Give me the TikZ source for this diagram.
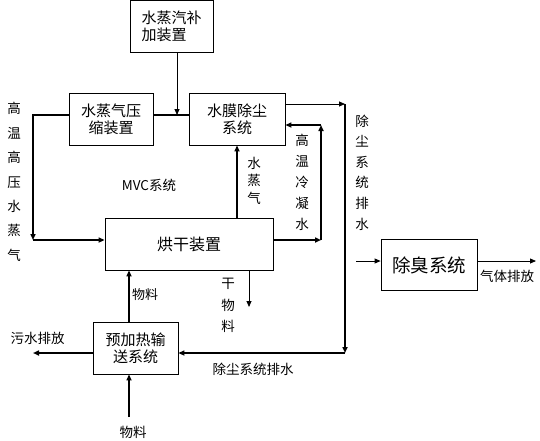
\documentclass[tikz,border=0pt]{standalone}
\usepackage{fontspec}
\setmainfont{Noto Sans CJK SC}
\usetikzlibrary{arrows.meta}
\tikzset{
  box/.style={draw, line width=0.8pt, inner sep=2pt, font=\fontsize{15}{17}\selectfont, align=center},
  thinln/.style={line width=0.8pt},
  thickln/.style={line width=1.6pt},
  tip/.style={-{Triangle[length=6pt,width=5pt]}},
  lbl/.style={inner sep=0pt, font=\fontsize{13.5}{16}\selectfont},
}
\newcommand{\vlab}[2]{\fontsize{13.5}{#1}\selectfont #2}
\begin{document}
\begin{tikzpicture}[x=1pt,y=-1pt]
\useasboundingbox (0,0) rectangle (540,440);
% boxes
\node[box, align=left, minimum width=83, minimum height=52] (add) at (171.5,26.5) {水蒸汽补\\加装置};
\node[box, minimum width=84, minimum height=52] (comp) at (111,119) {水蒸气压\\缩装置};
\node[box, minimum width=96, minimum height=52] (dust) at (237,119) {水膜除尘\\系统};
\node[box, minimum width=168, minimum height=52, font=\fontsize{16}{18}\selectfont] (dry) at (189,244) {烘干装置};
\node[box, minimum width=96, minimum height=51, font=\fontsize{18.5}{20}\selectfont] (deo) at (429,265) {除臭系统};
\node[box, minimum width=85, minimum height=52] (pre) at (135.5,348) {预加热输\\送系统};
% coordinates
\coordinate (j) at (177,115);
\coordinate (c1) at (33,240);
\coordinate (sx) at (237,180);
\coordinate (c2) at (321,240);
\coordinate (c3) at (321,125);
\coordinate (d1) at (345,104);
\coordinate (d2) at (345,353);
\coordinate (e1) at (356,261);
\coordinate (e2) at (536,261);
\coordinate (f1) at (249,307);
\coordinate (m) at (129,417);
\coordinate (w) at (33,353);
% connectors
\draw[thinln,tip] (add.south -| j) -- (j);
\draw[thickln] (j -| comp.east) -- (j -| dust.west);
\draw[thickln,tip] (j -| comp.west) -| (c1);
\draw[thickln,tip] (c1) -- (c1 -| dry.west);
\draw[thickln,tip] (dry.north -| sx) -- (dust.south -| sx);
\draw[thickln,tip] (c2 -| dry.east) -- (c2);
\draw[thickln,tip] (c2) -- (c3);
\draw[thickln,tip] (c3) -- (c3 -| dust.east);
\draw[thinln,tip] (d1 -| dust.east) -- (d1);
\draw[thickln,tip] (d1) -- (d2);
\draw[thickln,tip] (d2) -- (d2 -| pre.east);
\draw[thinln,tip] (e1) -- (e1 -| deo.west);
\draw[thinln,tip] (e1 -| deo.east) -- (e2);
\draw[thinln,tip] (dry.south -| f1) -- (f1);
\draw[thickln,tip] (pre.north -| m) -- (dry.south -| m);
\draw[thickln,tip] (m) -- (pre.south -| m);
\draw[thickln,tip] (w -| pre.west) -- (w);
% labels
\node[lbl, align=center, font=\vlab{24.4}{}] (l1) at (14,182) {高\\温\\高\\压\\水\\蒸\\气};
\node[lbl, align=center, font=\vlab{17.5}{}] (l2) at (254,180.5) {水\\蒸\\气};
\node[lbl, align=center, font=\vlab{21}{}] (l3) at (302,182) {高\\温\\冷\\凝\\水};
\node[lbl, align=center, font=\vlab{20.6}{}] (l4) at (362,172.5) {除\\尘\\系\\统\\排\\水};
\node[lbl, align=center, font=\vlab{21.5}{}] (l5) at (228,305.5) {干\\物\\料};
\node[lbl] (l6) at (149,185) {MVC系统};
\node[lbl, font=\fontsize{13}{15}\selectfont] (l7) at (145,295) {物料};
\node[lbl] (l8) at (37.5,338) {污水排放};
\node[lbl] (l9) at (253,369) {除尘系统排水};
\node[lbl] (l10) at (133,432) {物料};
\node[lbl] (l11) at (507,276) {气体排放};
\end{tikzpicture}
\end{document}
